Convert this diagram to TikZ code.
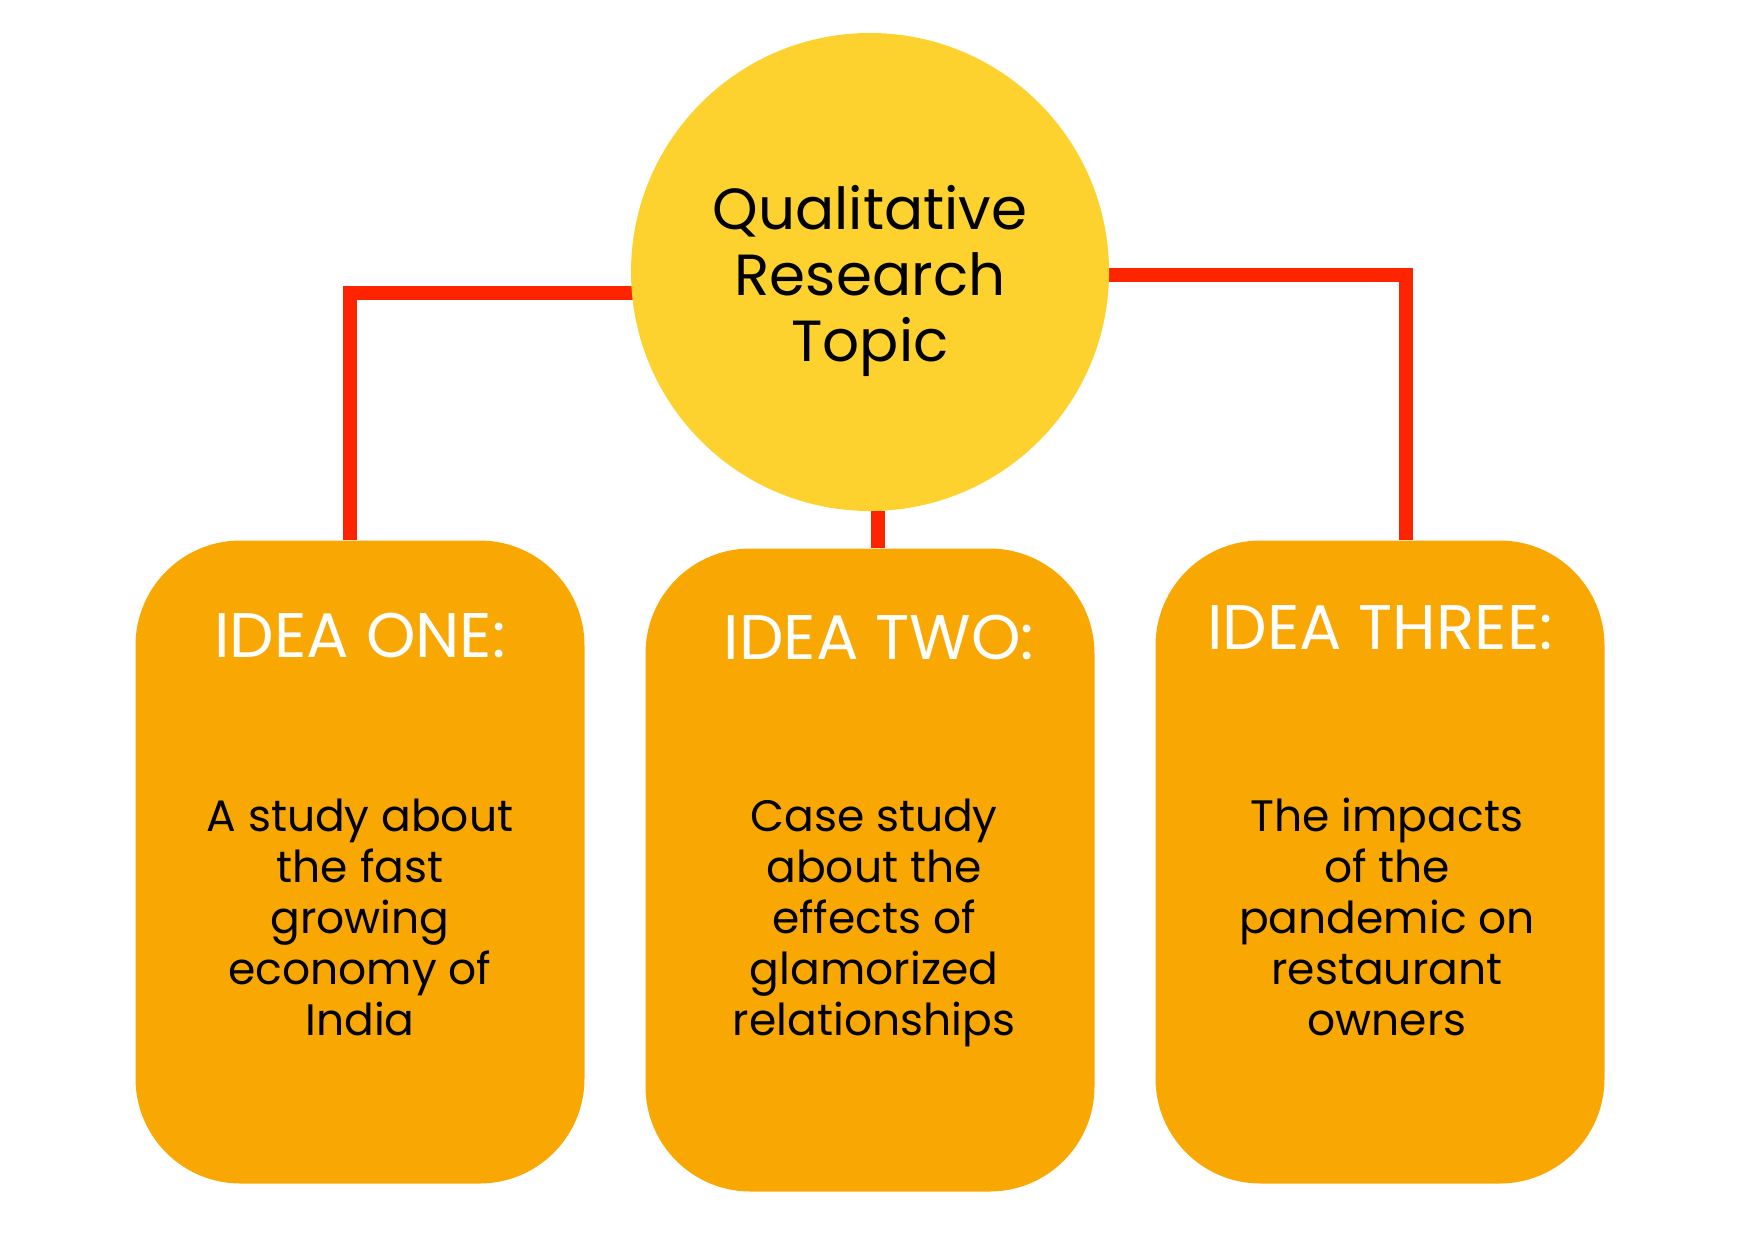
\documentclass[tikz,border=0pt]{standalone}
\usepackage{fontspec}
\setmainfont{Poppins}
\usetikzlibrary{backgrounds}

\definecolor{topicyellow}{RGB}{253,210,46}
\definecolor{ideaorange}{RGB}{249,167,3}
\definecolor{linkred}{RGB}{255,36,0}

\tikzset{
	topicnode/.style={circle, fill=topicyellow, minimum size=478pt, inner sep=0pt},
	topictext/.style={align=center, font=\fontsize{58}{66}\selectfont},
	ideabox/.style={rectangle, rounded corners=105pt, fill=ideaorange,
		minimum width=449pt, minimum height=643pt, inner sep=0pt},
	ideatitle/.style={anchor=base, text=white, font=\fontsize{63}{70}\selectfont},
	ideabody/.style={anchor=base, align=center, font=\fontsize{44}{51}\selectfont},
	link/.style={draw=linkred, line width=14pt},
}

\begin{document}
\begin{tikzpicture}[x=1pt, y=-1pt]

\useasboundingbox (0,0) rectangle (1760,1232);

% NODES
\node[topicnode](topic) at(870, 272) {};
\node[topictext](topiclabel) at(870, 281) {Qualitative\\Research\\Topic};

\foreach \i/\x/\y in{1/360/862, 2/870/870, 3/1380/862}{
	\node[ideabox](idea\i) at(\x,\y) {};
}

\node[ideatitle](title1) at(360, 657) {IDEA ONE:};
\node[ideatitle](title2) at(879, 659) {IDEA TWO:};
\node[ideatitle](title3) at(1380, 649) {IDEA THREE:};

\node[ideabody](body1) at(360, 1035) {A study about\\the fast\\growing\\economy of\\India};
\node[ideabody](body2) at(874, 1035) {Case study\\about the\\effects of\\glamorized\\relationships};
\node[ideabody](body3) at(1387, 1035) {The impacts\\of the\\pandemic on\\restaurant\\owners};

% ARCS
\coordinate(c1) at(350, 293);
\coordinate(c3) at(1406, 275);

\begin{scope}[on background layer]
	\draw[link] (topic.center |- c1) -- (c1) -- (c1 |- idea1.north);
	\draw[link] (topic.center |- c3) -- (c3) -- (c3 |- idea3.north);
	\draw[link] (topic.-88) -- (topic.-88 |- idea2.north);
\end{scope}

\end{tikzpicture}
\end{document}
